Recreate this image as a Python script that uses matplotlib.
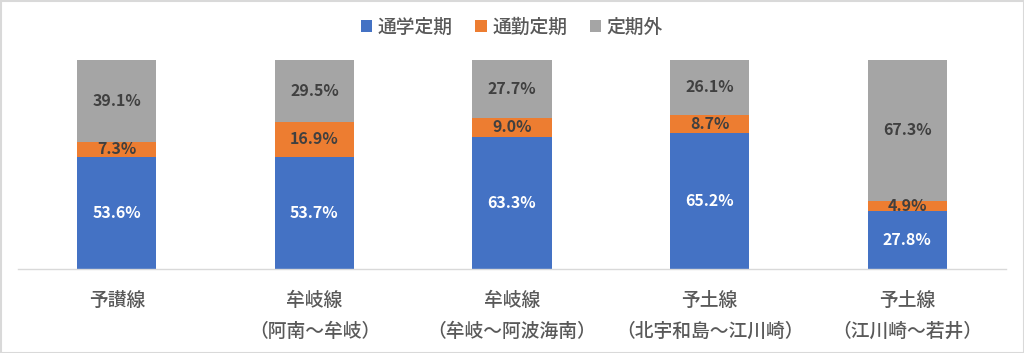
import matplotlib
matplotlib.use("Agg")
import matplotlib.pyplot as plt
from matplotlib.patches import Rectangle

plt.rcParams['font.family'] = ['Noto Sans CJK JP', 'DejaVu Sans']

categories = ['予讃線', '牟岐線\n（阿南～牟岐）', '牟岐線\n（牟岐～阿波海南）',
              '予土線\n（北宇和島～江川崎）', '予土線\n（江川崎～若井）']
series_names = ['通学定期', '通勤定期', '定期外']
tsugaku = [53.6, 53.7, 63.3, 65.2, 27.8]
tsukin = [7.3, 16.9, 9.0, 8.7, 4.9]
teikigai = [39.1, 29.5, 27.7, 26.1, 67.3]
colors = ['#4472C4', '#ED7D31', '#A5A5A5']
label_colors = ['white', '#404040', '#404040']

fig = plt.figure(figsize=(10.24, 3.53), dpi=100)
ax = fig.add_axes([18/1024, 1-269/353, 988/1024, 209/353])

x = list(range(len(categories)))
bottoms = [0]*len(categories)
for vals, c, lc, name in zip([tsugaku, tsukin, teikigai], colors, label_colors, series_names):
    bars = ax.bar(x, vals, width=0.4, bottom=bottoms, color=c, label=name)
    for xi, v, b in zip(x, vals, bottoms):
        ax.text(xi, b + v/2, f'{v:.1f}%', ha='center', va='center', color=lc,
                fontsize=11.5, fontweight='bold')
    bottoms = [b + v for b, v in zip(bottoms, vals)]

total = [a+b+c for a, b, c in zip(tsugaku, tsukin, teikigai)]
ax.set_ylim(0, max(total))
ax.set_xlim(-0.5, len(categories)-0.5)
for s in ['top', 'right', 'left']:
    ax.spines[s].set_visible(False)
ax.spines['bottom'].set_color('#D9D9D9')
ax.spines['bottom'].set_linewidth(1)
ax.set_yticks([])
ax.set_xticks(x)
ax.set_xticklabels(categories, fontsize=13.5, color='#595959', linespacing=1.75,
                   fontweight='medium')
ax.tick_params(axis='x', length=0, pad=16)

leg = fig.legend(loc='center', bbox_to_anchor=(0.5, 1-27/353), ncol=3, frameon=False,
                 prop={'size': 13.5, 'weight': 'medium'}, handlelength=0.6,
                 handleheight=0.6, handletextpad=0.3, columnspacing=1.2)
for t in leg.get_texts():
    t.set_color('#595959')

fig.patches.append(Rectangle((0.5/1024, 0.5/353), 1-1/1024, 1-1/353, transform=fig.transFigure,
                             fill=False, edgecolor='#D9D9D9', linewidth=1.5))
fig.savefig('out.png', dpi=100)
